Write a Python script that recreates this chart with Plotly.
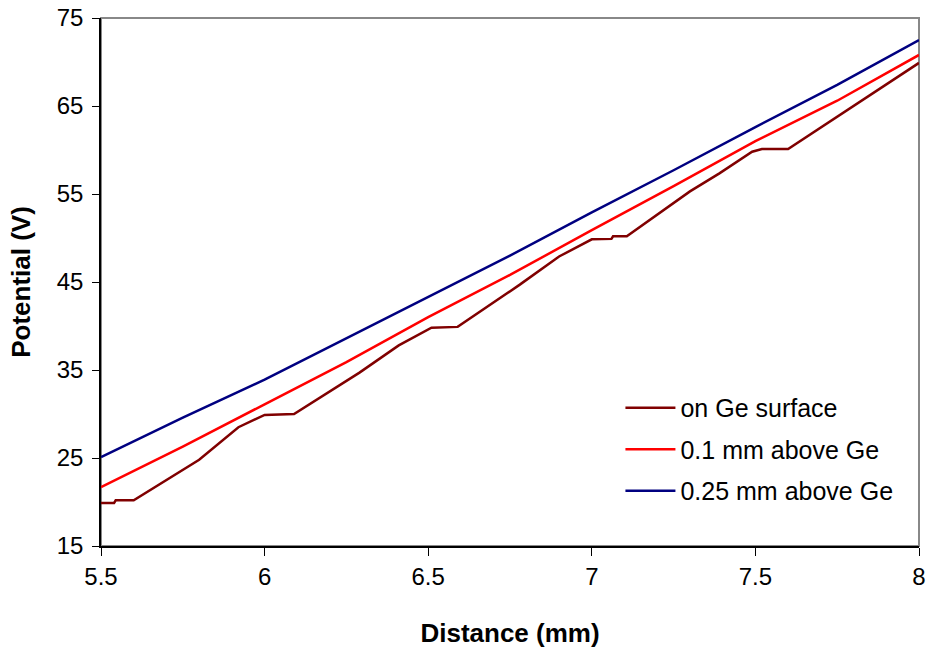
import plotly.graph_objects as go

# Dark red: on Ge surface
x_surface = [5.5, 5.54, 5.545, 5.6, 5.8, 5.92, 6.0, 6.09, 6.29, 6.41, 6.51, 6.59,
             6.78, 6.9, 7.0, 7.06, 7.065, 7.107, 7.3, 7.39, 7.49, 7.52, 7.6, 7.76, 8.0]
y_surface = [19.9, 19.9, 20.2, 20.2, 24.8, 28.5, 29.9, 30.0, 34.7, 37.8, 39.8, 39.9,
             44.7, 47.9, 49.85, 49.9, 50.2, 50.2, 55.3, 57.35, 59.8, 60.1, 60.1, 64.0, 69.9]

# Red: 0.1 mm above Ge
x_01 = [5.5, 5.75, 6.0, 6.25, 6.5, 6.75, 7.0, 7.25, 7.5, 7.75, 8.0]
y_01 = [21.7, 26.3, 31.1, 35.9, 41.0, 45.8, 50.9, 55.9, 61.0, 65.6, 70.8]

# Navy: 0.25 mm above Ge
x_025 = [5.5, 5.75, 6.0, 6.25, 6.5, 6.75, 7.0, 7.25, 7.5, 7.75, 8.0]
y_025 = [25.1, 29.6, 33.9, 38.6, 43.3, 48.0, 52.9, 57.7, 62.6, 67.4, 72.5]

x_ticks = [5.5, 6, 6.5, 7, 7.5, 8]
x_tick_labels = ["5.5", "6", "6.5", "7", "7.5", "8"]
y_ticks = [15, 25, 35, 45, 55, 65, 75]

FONT = "Liberation Sans, Arial, sans-serif"

fig = go.Figure()
series = [
    ("on Ge surface", x_surface, y_surface, "#800000"),
    ("0.1 mm above Ge", x_01, y_01, "#FF0000"),
    ("0.25 mm above Ge", x_025, y_025, "#000080"),
]
for name, xs, ys, col in series:
    fig.add_trace(go.Scatter(x=xs, y=ys, mode="lines", name=name, legendgroup=name,
                             line=dict(color=col, width=2.5)))

fig.update_layout(
    width=927, height=649,
    margin=dict(l=101, r=8, t=18, b=103),
    paper_bgcolor="white", plot_bgcolor="white",
    font=dict(family=FONT, size=24, color="black"),
    showlegend=True,
    legend=dict(x=0.635, y=0.305, xanchor="left", yanchor="top",
                font=dict(family=FONT, size=25, color="black"),
                bgcolor="rgba(0,0,0,0)", borderwidth=0,
                traceorder="grouped", tracegroupgap=6, itemwidth=50),
    xaxis=dict(range=[5.5, 8], tickvals=x_ticks, ticktext=x_tick_labels, automargin=False,
               showgrid=False, zeroline=False, showline=True, linecolor="black", linewidth=1.5,
               ticks="outside", ticklen=8, tickcolor="black", tickwidth=1,
               tickfont=dict(family=FONT, size=24),
               title=dict(text="<b>Distance (mm)</b>", font=dict(family=FONT, size=26), standoff=35)),
    yaxis=dict(range=[15, 75], tickvals=y_ticks, automargin=False,
               showgrid=False, zeroline=False, showline=True, linecolor="black", linewidth=1.5,
               ticks="outside", ticklen=7, tickcolor="black", tickwidth=1, ticklabelstandoff=4,
               tickfont=dict(family=FONT, size=24),
               title=dict(text="<b>Potential (V)</b>", font=dict(family=FONT, size=26), standoff=19)),
    shapes=[dict(type="rect", xref="paper", yref="paper", x0=0, y0=0, x1=1, y1=1,
                 line=dict(color="#888888", width=2), layer="below")],
)

fig.write_html("out.html", config={"displayModeBar": False},
               post_script="document.body.style.margin='0';document.body.style.overflow='hidden';")
